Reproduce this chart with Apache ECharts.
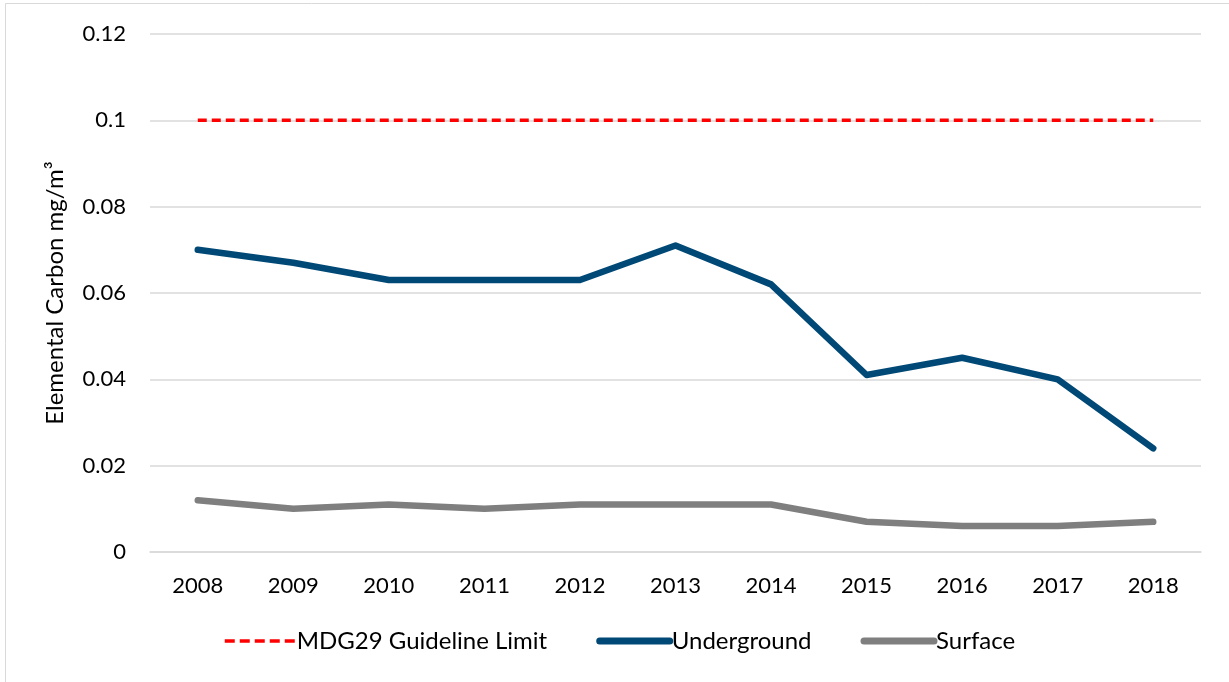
<!DOCTYPE html>
<html>
<head>
<meta charset="utf-8">
<script src="https://cdn.jsdelivr.net/npm/echarts@6/dist/echarts.min.js"></script>
<style>
  html, body { margin: 0; padding: 0; background: #fff; }
  #chart { width: 1229px; height: 682px; }
</style>
</head>
<body>
<div id="chart"></div>
<script>
// data
const years = ["2008", "2009", "2010", "2011", "2012", "2013", "2014", "2015", "2016", "2017", "2018"];
const guideline = [0.1, 0.1, 0.1, 0.1, 0.1, 0.1, 0.1, 0.1, 0.1, 0.1, 0.1];
const underground = [0.070, 0.067, 0.063, 0.063, 0.063, 0.071, 0.062, 0.041, 0.045, 0.040, 0.024];
const surface = [0.012, 0.010, 0.011, 0.010, 0.011, 0.011, 0.011, 0.007, 0.006, 0.006, 0.007];

const font = "Lato, 'Open Sans', sans-serif";

var chartDom = document.getElementById("chart");
let chart = echarts.init(chartDom);

let option = {
  animation: false,
  textStyle: { fontFamily: font },
  graphic: [{
    type: "rect",
    shape: { x: 5.5, y: 3.5, width: 1240, height: 700 },
    style: { fill: "none", stroke: "#d9d9d9", lineWidth: 1 },
    silent: true
  }],
  grid: { left: 150, right: 28, top: 34, bottom: 130 },
  legend: {
    bottom: 24,
    left: 218,
    itemWidth: 70,
    itemHeight: 12,
    itemGap: 49,
    itemStyle: { opacity: 0 },
    textStyle: { fontFamily: font, fontSize: 24, color: "#000", padding: [0, 0, 0, -3] },
    data: [
      { name: "MDG29 Guideline Limit", lineStyle: { width: 3.5, type: [10, 5] } },
      { name: "Underground", lineStyle: { width: 7, cap: "round" } },
      { name: "Surface", lineStyle: { width: 7, cap: "round" } }
    ]
  },
  xAxis: {
    type: "category",
    data: years,
    boundaryGap: true,
    axisLine: { show: true, lineStyle: { color: "#d9d9d9", width: 1.5 } },
    axisTick: { show: false },
    axisLabel: { fontFamily: font, fontSize: 22, color: "#000", margin: 23 }
  },
  yAxis: {
    type: "value",
    min: 0,
    max: 0.12,
    interval: 0.02,
    name: "Elemental Carbon mg/m³",
    nameLocation: "middle",
    nameGap: 83,
    nameTextStyle: { fontFamily: font, fontSize: 24, color: "#000" },
    axisLine: { show: false },
    axisTick: { show: false },
    splitLine: { lineStyle: { color: "#d9d9d9", width: 1.5 } },
    axisLabel: {
      fontFamily: font, fontSize: 22, color: "#000", margin: 24,
      formatter: function (v) { return String(+v.toFixed(2)); }
    }
  },
  series: [
    {
      name: "MDG29 Guideline Limit",
      type: "line",
      data: guideline,
      symbol: "none",
      lineStyle: { color: "#ff0000", width: 3.5, type: [9, 5] },
      itemStyle: { color: "#ff0000" }
    },
    {
      name: "Underground",
      type: "line",
      data: underground,
      symbol: "none",
      lineStyle: { color: "#004976", width: 6.5, cap: "round", join: "round" },
      itemStyle: { color: "#004976" }
    },
    {
      name: "Surface",
      type: "line",
      data: surface,
      symbol: "none",
      lineStyle: { color: "#7f7f7f", width: 6.5, cap: "round", join: "round" },
      itemStyle: { color: "#7f7f7f" }
    }
  ]
};

chart.setOption(option);
</script>
</body>
</html>
